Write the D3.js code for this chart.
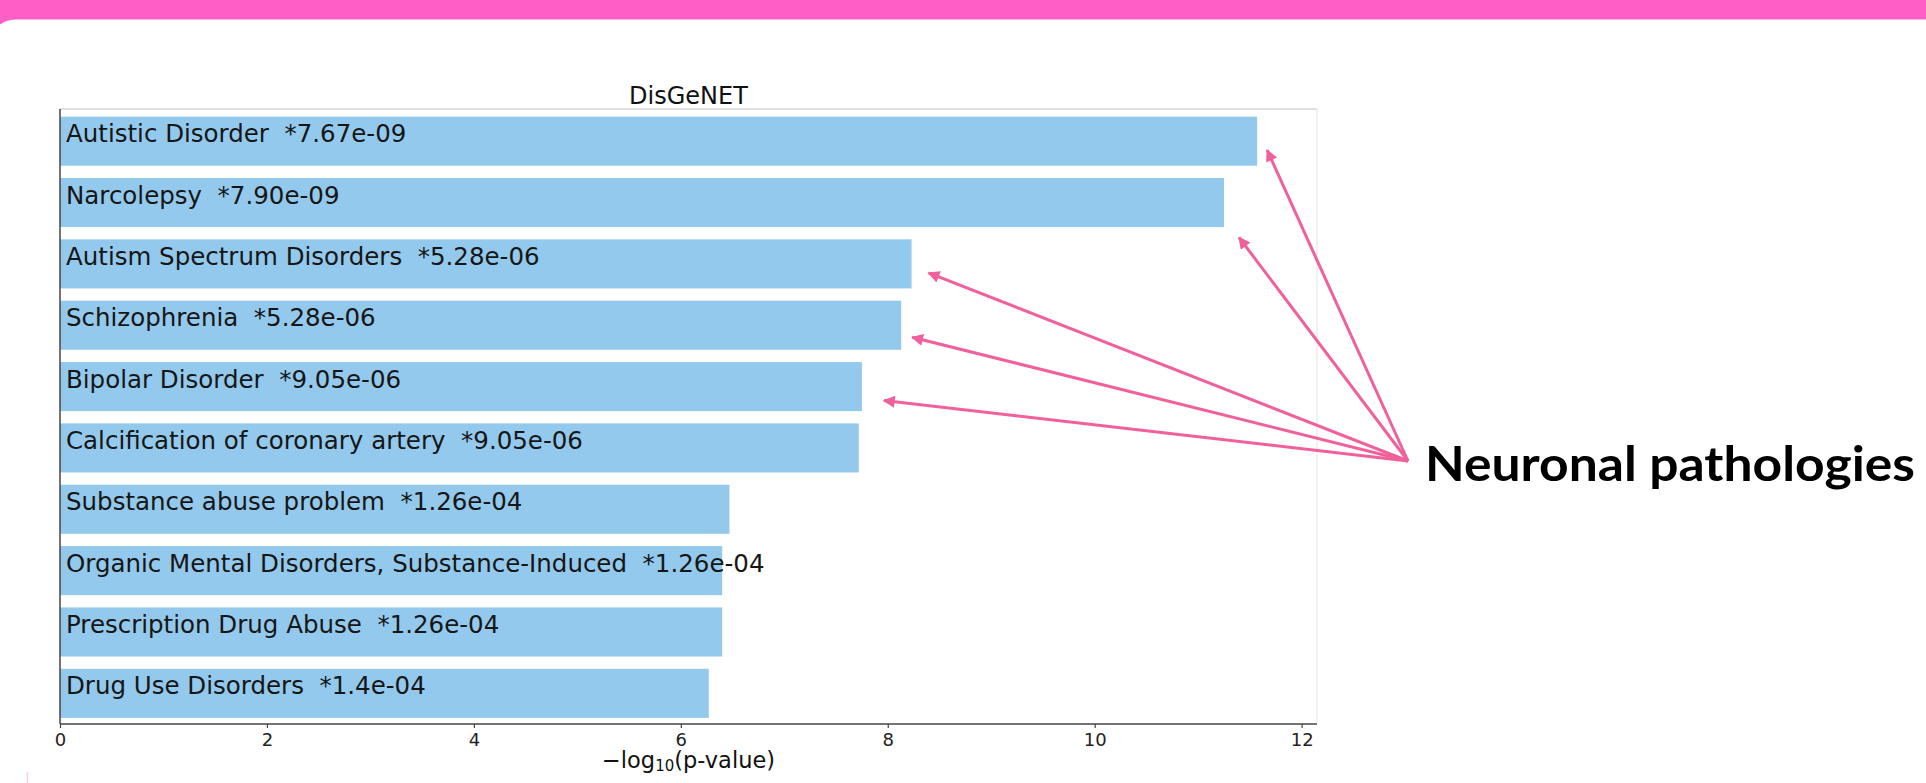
<!DOCTYPE html>
<html>
<head>
<meta charset="utf-8">
<script src="https://cdn.jsdelivr.net/npm/d3@7"></script>
<style>
  html, body { margin: 0; padding: 0; background: #ffffff; }
  svg { display: block; }
  text { white-space: pre; }
</style>
</head>
<body>
<svg id="chart" width="1926" height="783"></svg>
<script>
// ---- data ----
const categories = [
  "Autistic Disorder",
  "Narcolepsy",
  "Autism Spectrum Disorders",
  "Schizophrenia",
  "Bipolar Disorder",
  "Calcification of coronary artery",
  "Substance abuse problem",
  "Organic Mental Disorders, Substance-Induced",
  "Prescription Drug Abuse",
  "Drug Use Disorders"
];
const pValueLabels = [
  "7.67e-09", "7.90e-09", "5.28e-06", "5.28e-06", "9.05e-06",
  "9.05e-06", "1.26e-04", "1.26e-04", "1.26e-04", "1.4e-04"
];
const scores = [11.57, 11.25, 8.23, 8.13, 7.75, 7.72, 6.47, 6.40, 6.40, 6.27];
const xTicks = [0, 2, 4, 6, 8, 10, 12];
const chartTitle = "DisGeNET";
const xLabelMain = "\u2212log";
const xLabelSub = "10";
const xLabelTail = "(p-value)";
const annotationText = "Neuronal pathologies";
const annotatedCategories = [
  "Autistic Disorder", "Narcolepsy", "Autism Spectrum Disorders",
  "Schizophrenia", "Bipolar Disorder"
];

// ---- layout ----
const svg = d3.select("#chart");
const W = 1926, H = 783;
const plot = { left: 60, right: 1317, top: 109, bottom: 724 };

// page background: pink band + white card with rounded corner
svg.append("rect").attr("x", 0).attr("y", 0).attr("width", W).attr("height", 60)
  .attr("fill", "#ff5ec6");
svg.append("rect").attr("x", -10).attr("y", 19.5).attr("width", W + 40).attr("height", H + 40)
  .attr("rx", 25).attr("ry", 25).attr("fill", "#ffffff");
svg.append("line").attr("x1", 27.5).attr("x2", 27.5).attr("y1", 772).attr("y2", 783)
  .attr("stroke", "#f6cde8").attr("stroke-width", 1.5);

const xMax = d3.max(scores) * 1.05;
const x = d3.scaleLinear().domain([0, xMax]).range([plot.left, plot.right]);
const y = d3.scaleBand().domain(categories).range([plot.top + 1.5, plot.bottom])
  .paddingInner(0.2).paddingOuter(0.1);

const data = categories.map((c, i) => ({ cat: c, v: scores[i], p: pValueLabels[i] }));

// bars
svg.append("g").selectAll("rect").data(data).join("rect")
  .attr("x", x(0))
  .attr("y", d => y(d.cat))
  .attr("width", d => x(d.v) - x(0))
  .attr("height", y.bandwidth())
  .attr("fill", "#93c9ec");

// bar labels
svg.append("g").selectAll("text").data(data).join("text")
  .attr("x", x(0) + 6)
  .attr("y", d => y(d.cat) + y.bandwidth() / 2 + 1)
  .attr("font-family", "DejaVu Sans")
  .attr("font-size", 24.5)
  .attr("fill", "#161616")
  .text(d => `${d.cat}  *${d.p}`);

// spines
svg.append("line").attr("x1", plot.left).attr("x2", plot.right).attr("y1", plot.top).attr("y2", plot.top)
  .attr("stroke", "#d4d4d4").attr("stroke-width", 1.5);
svg.append("line").attr("x1", plot.right).attr("x2", plot.right).attr("y1", plot.top).attr("y2", plot.bottom)
  .attr("stroke", "#ececec").attr("stroke-width", 1.5);
svg.append("line").attr("x1", plot.left).attr("x2", plot.left).attr("y1", plot.top).attr("y2", plot.bottom)
  .attr("stroke", "#444444").attr("stroke-width", 1.5);

// x axis
const xAxis = svg.append("g").attr("transform", `translate(0,${plot.bottom})`)
  .call(d3.axisBottom(x).tickValues(xTicks).tickFormat(d3.format("d")).tickSize(4).tickPadding(5));
xAxis.select(".domain").attr("stroke", "#444444").attr("stroke-width", 1.5)
  .attr("d", `M${plot.left},0H${plot.right}`);
xAxis.selectAll(".tick line").attr("stroke", "#444444").attr("stroke-width", 1.2);
xAxis.selectAll(".tick text").attr("font-family", "DejaVu Sans").attr("font-size", 18).attr("fill", "#222222");

// title
const cx = (plot.left + plot.right) / 2;
svg.append("text").attr("x", cx).attr("y", 104).attr("text-anchor", "middle")
  .attr("font-family", "DejaVu Sans").attr("font-size", 24).attr("fill", "#111111")
  .text(chartTitle);

// x label with subscript
const xl = svg.append("text").attr("x", cx).attr("y", 768).attr("text-anchor", "middle")
  .attr("font-family", "DejaVu Sans").attr("font-size", 22.5).attr("fill", "#111111");
xl.append("tspan").text(xLabelMain);
xl.append("tspan").attr("font-size", 15).attr("dy", 3).text(xLabelSub);
xl.append("tspan").attr("dy", -3).text(xLabelTail);

// annotation text
const annX = 1425, annY = 481;
svg.append("text").attr("x", annX).attr("y", annY)
  .attr("font-family", "Lato").attr("font-weight", 700).attr("font-size", 48)
  .attr("fill", "#000000")
  .attr("textLength", 490).attr("lengthAdjust", "spacingAndGlyphs")
  .text(annotationText);

// arrows
const arrowColor = "#f0609b";
svg.append("defs").append("marker")
  .attr("id", "ah").attr("viewBox", "0 0 10 10").attr("refX", 9).attr("refY", 5)
  .attr("markerWidth", 16).attr("markerHeight", 12).attr("markerUnits", "userSpaceOnUse")
  .attr("orient", "auto")
  .append("path").attr("d", "M0,0L10,5L0,10Z").attr("fill", arrowColor);

const tipOffsets = [[10, 9], [15, 35], [17, 9], [11, 12], [22, 14]];
const origin = [annX - 17, annY - 20];
svg.append("g").selectAll("line").data(annotatedCategories).join("line")
  .attr("x1", origin[0]).attr("y1", origin[1])
  .attr("x2", (c, i) => x(scores[categories.indexOf(c)]) + tipOffsets[i][0])
  .attr("y2", (c, i) => y(c) + y.bandwidth() / 2 + tipOffsets[i][1])
  .attr("stroke", arrowColor).attr("stroke-width", 3)
  .attr("marker-end", "url(#ah)");
</script>
</body>
</html>
